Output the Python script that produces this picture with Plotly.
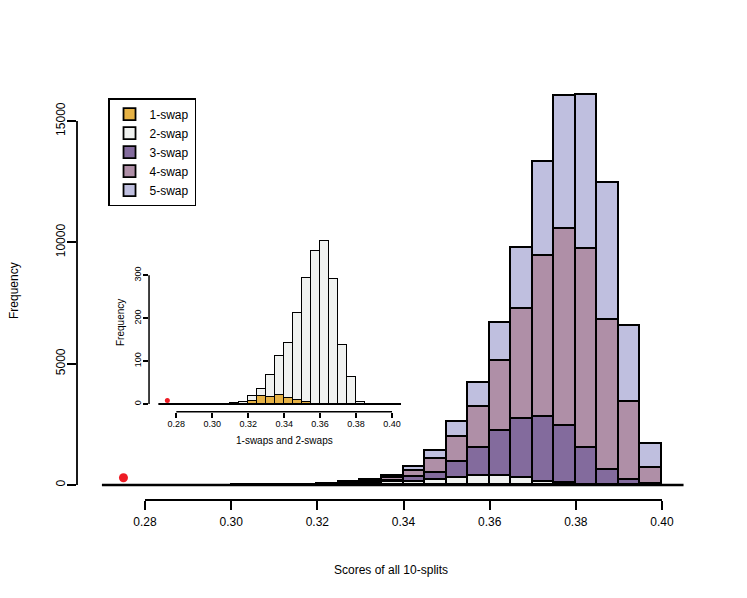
import plotly.graph_objects as go

# bin left edges (width 0.005); outside this range all counts are 0
bin_left = [0.300, 0.305, 0.310, 0.315, 0.320, 0.325, 0.330, 0.335, 0.340, 0.345,
            0.350, 0.355, 0.360, 0.365, 0.370, 0.375, 0.380, 0.385, 0.390, 0.395]
bin_width = 0.005
hist_start = 0.27
hist_end = 0.405

# counts per bin for each swap level
swap1 = [0, 0, 0, 1, 6, 18, 16, 20, 15, 9, 5, 0, 0, 0, 0, 0, 0, 0, 0, 0]
swap2 = [1, 1, 2, 3, 12, 17, 51, 92, 127, 204, 289, 357, 380, 291, 138, 64, 5, 0, 0, 0]
swap3 = [0, 1, 2, 4, 4, 17, 33, 68, 201, 294, 666, 1154, 1845, 2428, 2651, 2367, 1519, 605, 220, 30]
swap4 = [1, 1, 2, 5, 12, 28, 50, 100, 234, 551, 1030, 1703, 2884, 4519, 6633, 8104, 8199, 6206, 3212, 670]
swap5 = [0, 1, 2, 5, 11, 25, 50, 80, 152, 342, 618, 1001, 1578, 2539, 3898, 5505, 6357, 5644, 3131, 1002]

# score of the actual split (red dot)
best_score = 0.275
best_y_main = 300
best_y_inset = 8

main_xticks = [0.28, 0.30, 0.32, 0.34, 0.36, 0.38, 0.40]
main_yticks = [0, 5000, 10000, 15000]
inset_yticks = [0, 100, 200, 300]

names = ["1-swap", "2-swap", "3-swap", "4-swap", "5-swap"]
colors = ["#E6B245", "#F0F2F0", "#836B9D", "#AF8FA7", "#BFBFDF"]
series = [swap1, swap2, swap3, swap4, swap5]

centers = [b + bin_width / 2 for b in bin_left]
FONT = "Liberation Sans, Arial, sans-serif"

fig = go.Figure()

# main histogram, stacked from 1-swap upwards
for name, col, vals in zip(names, colors, series):
    fig.add_trace(go.Bar(
        x=centers, y=vals, width=bin_width, name=name,
        marker=dict(color=col, line=dict(color="black", width=1.8)),
        xaxis="x", yaxis="y"
    ))

fig.add_trace(go.Scatter(
    x=[best_score], y=[best_y_main], mode="markers",
    marker=dict(color="#EE1C25", size=9), showlegend=False,
    xaxis="x", yaxis="y"
))

# inset: 1-swaps and 2-swaps only
for name, col, vals in zip(names[:2], colors[:2], series[:2]):
    fig.add_trace(go.Bar(
        x=centers, y=vals, width=bin_width, name=name, showlegend=False,
        marker=dict(color=col, line=dict(color="black", width=1.5)),
        xaxis="x2", yaxis="y2"
    ))

fig.add_trace(go.Scatter(
    x=[best_score], y=[best_y_inset], mode="markers",
    marker=dict(color="#EE1C25", size=5), showlegend=False,
    xaxis="x2", yaxis="y2"
))

axis_common = dict(showgrid=False, zeroline=False, showline=False,
                   ticks="outside", tickcolor="black")

shapes = [
    # R-style axes that only span the tick range
    dict(type="line", xref="x", yref="paper", x0=main_xticks[0], x1=main_xticks[-1],
         y0=0, y1=0, line=dict(color="black", width=1.8)),
    dict(type="line", xref="paper", yref="y", x0=0, x1=0,
         y0=main_yticks[0], y1=main_yticks[-1], line=dict(color="black", width=1.8)),
    dict(type="line", xref="x2", yref="y2 domain", x0=main_xticks[0], x1=main_xticks[-1],
         y0=0, y1=0, line=dict(color="black", width=1.5)),
    dict(type="line", xref="x2 domain", yref="y2", x0=0, x1=0,
         y0=inset_yticks[0], y1=inset_yticks[-1], line=dict(color="black", width=1.5)),
    # empty bins of the histograms lie along the baseline
    dict(type="line", xref="x", yref="y", x0=hist_start, x1=hist_end,
         y0=0, y1=0, line=dict(color="black", width=2.5)),
    dict(type="line", xref="x2", yref="y2", x0=hist_start, x1=hist_end,
         y0=0, y1=0, line=dict(color="black", width=2)),
]

def label(text, x, y, size, angle=0):
    return dict(text=text, xref="paper", yref="paper", x=x, y=y, textangle=angle,
                xanchor="center", yanchor="middle", showarrow=False,
                font=dict(size=size))

annotations = [
    label("Frequency", -0.1028, 0.4268, 12, -90),
    label("Scores of all 10-splits", 0.5122, -0.1423, 12),
    label("Frequency", 0.0718, 0.3598, 10, -90),
    label("1-swaps and 2-swaps", 0.3377, 0.12, 10),
]

fig.update_layout(
    width=739, height=590,
    margin=dict(l=69, r=57, t=0, b=98),
    paper_bgcolor="white", plot_bgcolor="rgba(0,0,0,0)",
    font=dict(family=FONT, size=12, color="black"),
    barmode="stack", bargap=0,
    xaxis=dict(axis_common, domain=[0, 1], range=[0.264215, 0.4065],
               tickvals=main_xticks, tickformat=".2f", ticklen=9, tickwidth=1.8,
               ticklabelstandoff=2, tickfont=dict(size=12)),
    yaxis=dict(axis_common, domain=[0, 1], range=[-618, 19656],
               tickvals=main_yticks, tickformat="d", ticklen=9, tickwidth=1.8,
               tickangle=-90, ticklabelstandoff=-3, tickfont=dict(size=12)),
    xaxis2=dict(axis_common, domain=[0.1175, 0.5351], range=[0.26481, 0.40723],
                anchor="y2", tickvals=main_xticks, tickformat=".2f", ticklen=5,
                tickwidth=1.5, ticklabelstandoff=-1, tickfont=dict(size=9)),
    yaxis2=dict(axis_common, domain=[0.1795, 0.5386], range=[-17.9, 394],
                anchor="x2", tickvals=inset_yticks, tickformat="d", ticklen=5,
                tickwidth=1.5, tickangle=-90, ticklabelstandoff=-2,
                tickfont=dict(size=9)),
    legend=dict(x=0.0506, y=0.817, xanchor="left", yanchor="top",
                bordercolor="black", borderwidth=1.5, bgcolor="white",
                font=dict(size=12), traceorder="normal"),
    shapes=shapes, annotations=annotations,
)

fig.write_html("out.html")
